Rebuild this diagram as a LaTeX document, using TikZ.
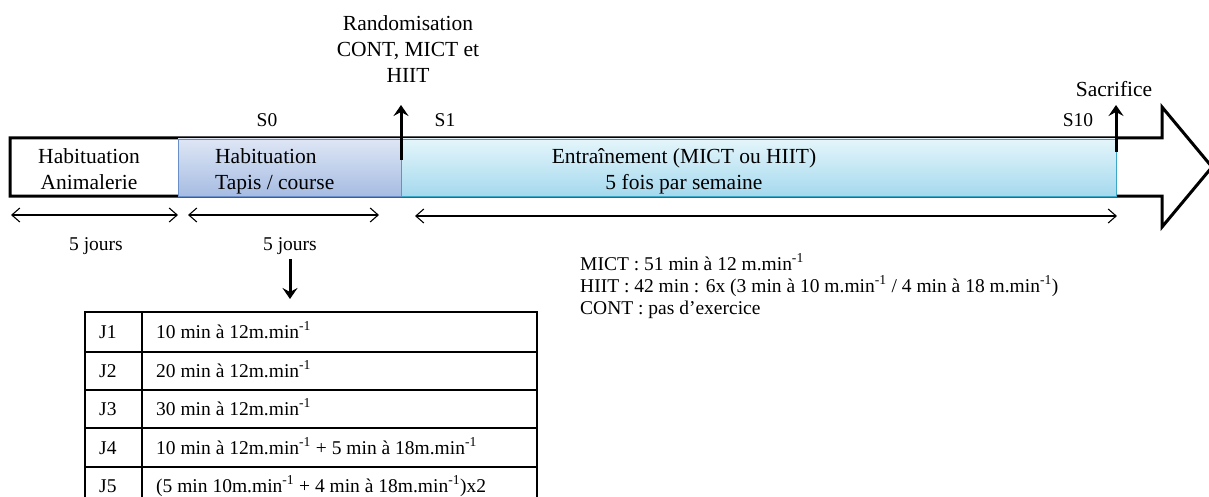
\documentclass[tikz,border=0pt]{standalone}
\usepackage{fontspec}
\setmainfont{Liberation Serif}
\usetikzlibrary{arrows.meta}
\definecolor{bluetop}{HTML}{DEE6F5}
\definecolor{bluebot}{HTML}{A6BCE2}
\definecolor{blueline}{HTML}{6A8FC8}
\definecolor{cyantop}{HTML}{E4F5FB}
\definecolor{cyanbot}{HTML}{A5D9EE}
\definecolor{cyanline}{HTML}{3AA7C7}
\begin{document}
\begin{tikzpicture}[x=1pt,y=-1pt,
  big/.style={font=\fontsize{21.5}{25}\selectfont, inner sep=0pt},
  small/.style={font=\fontsize{19.5}{23}\selectfont, inner sep=0pt},
  thickarrow/.style={line width=3pt, -{Stealth[length=11pt,width=15pt,inset=4pt]}},
  span/.style={line width=1.1pt, {Straight Barb[length=8pt,width=14pt]}-{Straight Barb[length=8pt,width=14pt]}},
  tabline/.style={line width=1.3pt}
]
\useasboundingbox (0,0) rectangle (1209,497);

% big arrow outline
\draw[line width=3pt, line join=miter] (10,138) -- (1162,138) -- (1162,107) -- (1212,167) -- (1162,227) -- (1162,196) -- (10,196) -- cycle;

% coloured phases
\node[draw=blueline, line width=0.8pt, top color=bluetop, bottom color=bluebot, minimum width=223pt, minimum height=57pt, inner sep=0pt] (tapis) at (289.5,167.5) {};
\node[draw=cyanline, line width=0.8pt, top color=cyantop, bottom color=cyanbot, minimum width=715pt, minimum height=57pt, inner sep=0pt] (train) at (758.5,167.5) {};
\node[minimum width=168pt, minimum height=58pt, inner sep=0pt] (anim) at (94,167) {};

% texts in boxes
\node[big, anchor=base] (animA) at (89,163.5) {Habituation};
\node[big, anchor=base] (animB) at (89,189.5) {Animalerie};
\node[big, anchor=base west] (tapA) at (215,163.5) {Habituation};
\node[big, anchor=base west] (tapB) at (215,189.5) {Tapis / course};
\node[big, anchor=base] (trA) at (684,163.5) {Entraînement (MICT ou HIIT)};
\node[big, anchor=base] (trB) at (684,189.5) {5 fois par semaine};

% top labels
\node[big, anchor=base] (rand1) at (408,30.5) {Randomisation};
\node[big, anchor=base] (rand2) at (408,56.5) {CONT, MICT et};
\node[big, anchor=base] (rand3) at (408,82.5) {HIIT};
\node[small, anchor=base] (s0) at (267,126.5) {S0};
\node[small, anchor=base] (s1) at (445,126.5) {S1};
\node[small, anchor=base] (s10) at (1078,126.5) {S10};
\node[big, anchor=base] (sac) at (1114,97) {Sacrifice};

% vertical arrows
\coordinate (r1) at (401,160);
\coordinate (r1t) at (401,105);
\coordinate (r2) at (1116,152);
\coordinate (r2t) at (1116,105);
\draw[thickarrow] (r1) -- (r1t);
\draw[thickarrow] (r2) -- (r2t);

% span arrows
\coordinate (a1) at (11,215);
\coordinate (a2) at (178,215);
\coordinate (b1) at (188,215);
\coordinate (b2) at (379,215);
\coordinate (c1) at (415,216);
\coordinate (c2) at (1117,216);
\draw[span] (a1) -- (a2);
\draw[span] (b1) -- (b2);
\draw[span] (c1) -- (c2);
\node[small, anchor=base] (j1) at (96,250.5) {5 jours};
\node[small, anchor=base] (j2) at (290,250.5) {5 jours};

% down arrow
\coordinate (d1) at (290,259);
\coordinate (d2) at (290,299);
\draw[thickarrow] (d1) -- (d2);

% protocol text
\node[small, anchor=base west] (mict) at (580,270) {MICT : 51 min à 12 m.min\textsuperscript{-1}};
\node[small, anchor=base west] (hiit) at (580,292) {HIIT : 42 min : 6x (3 min à 10 m.min\textsuperscript{-1} / 4 min à 18 m.min\textsuperscript{-1})};
\node[small, anchor=base west] (cont) at (580,314) {CONT : pas d’exercice};

% table
\draw[tabline] (85,505) -- (85,312) -- (537,312) -- (537,505);
\draw[tabline] (142,312) -- (142,505);
\foreach \yy in {352,390,428,467} \draw[tabline] (85,\yy) -- (537,\yy);
\draw[tabline] (85,505) -- (537,505);
\node[small, anchor=base west] (d1l) at (99,338.5) {J1};
\node[small, anchor=base west] (d2l) at (99,377.5) {J2};
\node[small, anchor=base west] (d3l) at (99,415.5) {J3};
\node[small, anchor=base west] (d4l) at (99,454.5) {J4};
\node[small, anchor=base west] (d5l) at (99,492.5) {J5};
\node[small, anchor=base west] (d1t) at (156,338.5) {10 min à 12m.min\textsuperscript{-1}};
\node[small, anchor=base west] (d2t) at (156,377.5) {20 min à 12m.min\textsuperscript{-1}};
\node[small, anchor=base west] (d3t) at (156,415.5) {30 min à 12m.min\textsuperscript{-1}};
\node[small, anchor=base west] (d4t) at (156,454.5) {10 min à 12m.min\textsuperscript{-1} + 5 min à 18m.min\textsuperscript{-1}};
\node[small, anchor=base west] (d5t) at (156,492.5) {(5 min 10m.min\textsuperscript{-1} + 4 min à 18m.min\textsuperscript{-1})x2};
\end{tikzpicture}
\end{document}
